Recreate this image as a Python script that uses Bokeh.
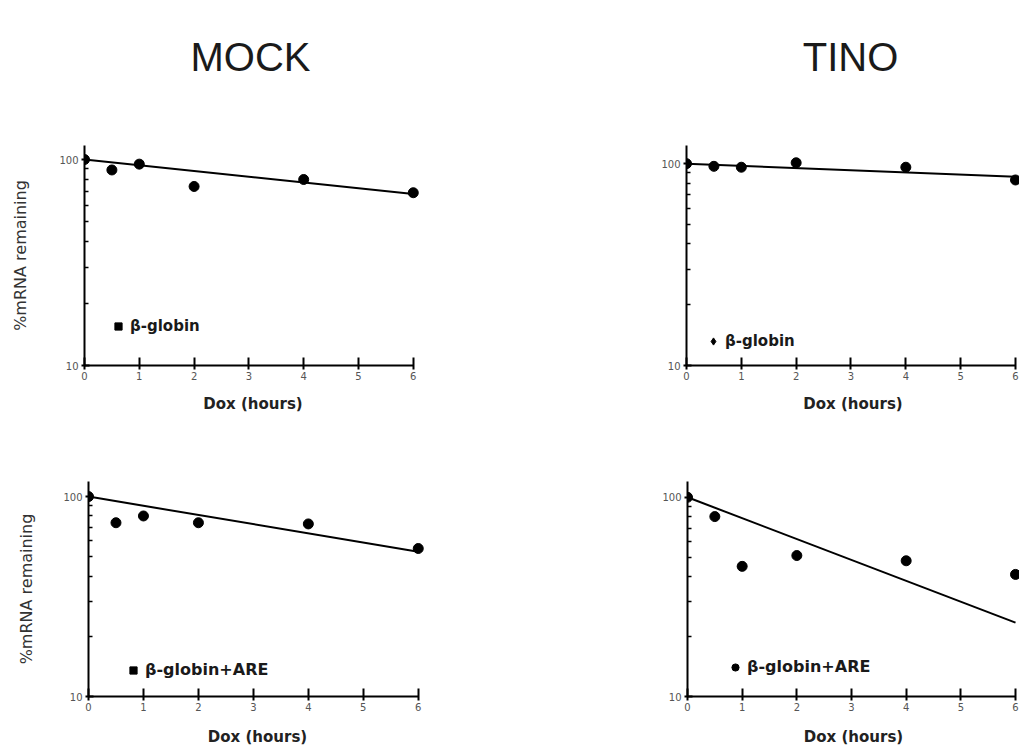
from bokeh.plotting import figure
from bokeh.layouts import column, row
from bokeh.models import (FixedTicker, Legend, LegendItem, Range1d,
                          ColumnDataSource, NumeralTickFormatter)
from bokeh.core.properties import value
from bokeh.embed import file_html
from bokeh.resources import INLINE

# ---- data ----
hours = [0, 0.5, 1, 2, 4, 6]
mock_bglobin = [100, 89, 95, 74, 80, 69]
tino_bglobin = [100, 97, 96, 101, 96, 83]
mock_are = [100, 74, 80, 74, 73, 55]
tino_are = [100, 80, 45, 51, 48, 41]

fit_hours = [0, 6]
mock_bglobin_fit = [100, 68]
tino_bglobin_fit = [100, 86]
mock_are_fit = [100, 53]
tino_are_fit = [100, 23.5]

x_ticks = [0, 1, 2, 3, 4, 5, 6]
y_major = [10, 100]
y_minor = [20, 30, 40, 50, 60, 70, 80, 90]

col_titles = ["MOCK", "TINO"]
series_labels = ["β-globin", "β-globin+ARE"]
x_title = "Dox (hours)"
y_title = "%mRNA remaining"

FONT = "DejaVu Sans"
TFONT = "Liberation Sans"


def title_fig(text, width, height, cx, baseline):
    # pixel-unit ranges so the heading can be placed exactly
    t = figure(width=width, height=height, x_range=Range1d(0, width),
               y_range=Range1d(0, height), output_backend="svg",
               toolbar_location=None, x_axis_location=None,
               y_axis_location=None, min_border=0)
    t.outline_line_color = None
    t.grid.visible = False
    t.text(x=[cx], y=[height - baseline], text=[text],
           text_font=value(TFONT), text_font_size="40px",
           text_color="#1a1a1a", text_align="center",
           text_baseline="alphabetic")
    return t


def panel(y, fit_y, label, label_size, marker, width, height,
          left, right, top, bottom, x_end, y_end, show_ylabel, ylabel_standoff,
          leg_loc, xlabel_standoff):
    p = figure(width=width, height=height,
               x_range=Range1d(0, x_end), y_range=Range1d(10, y_end),
               y_axis_type="log", output_backend="svg", toolbar_location=None,
               min_border_left=left, min_border_right=right,
               min_border_top=top, min_border_bottom=bottom)
    p.outline_line_color = None
    p.grid.visible = False
    p.background_fill_color = "white"
    p.border_fill_color = "white"

    src = ColumnDataSource(dict(x=hours, y=y))
    fit = ColumnDataSource(dict(x=fit_hours, y=fit_y))
    p.line("x", "y", source=fit, line_color="black", line_width=2)
    p.scatter("x", "y", source=src, size=10, marker="circle",
              fill_color="black", line_color="black")

    # legend key glyph (its single point lies outside the visible ranges)
    dummy = p.scatter(x=[-10], y=[1], marker=marker, size=8,
                      fill_color="black", line_color="black")
    leg = Legend(items=[LegendItem(label=label, renderers=[dummy])],
                 location=leg_loc)
    leg.border_line_color = None
    leg.background_fill_alpha = 0
    leg.padding = 0
    leg.margin = 0
    leg.spacing = 0
    leg.glyph_width = 18
    leg.glyph_height = 18
    leg.label_standoff = 3
    leg.label_text_font = FONT
    leg.label_text_font_size = label_size
    leg.label_text_font_style = "bold"
    leg.label_text_color = "#1a1a1a"
    p.add_layout(leg)

    xa = p.xaxis[0]
    xa.ticker = FixedTicker(ticks=x_ticks)
    xa.bounds = (0, 6)
    xa.axis_label = x_title
    xa.axis_label_text_font = FONT
    xa.axis_label_text_font_size = "15px"
    xa.axis_label_text_font_style = "bold"
    xa.axis_label_text_color = "#222222"
    xa.axis_label_standoff = xlabel_standoff
    xa.major_label_text_font = FONT
    xa.major_label_text_font_size = "10px"
    xa.major_label_text_color = "#555555"
    xa.major_label_standoff = 2
    xa.axis_line_width = 2
    xa.major_tick_line_width = 2
    xa.major_tick_in = 8
    xa.major_tick_out = 4
    xa.minor_tick_line_color = None

    ya = p.yaxis[0]
    ya.ticker = FixedTicker(ticks=y_major, minor_ticks=y_minor)
    ya.formatter = NumeralTickFormatter(format="0")
    ya.major_label_text_font = FONT
    ya.major_label_text_font_size = "10px"
    ya.major_label_text_color = "#555555"
    ya.major_label_standoff = 3
    ya.axis_line_width = 2
    ya.major_tick_line_width = 2
    ya.major_tick_in = 5
    ya.major_tick_out = 3
    ya.minor_tick_in = 4
    ya.minor_tick_out = 0
    ya.minor_tick_line_width = 1.5
    if show_ylabel:
        ya.axis_label = y_title
        ya.axis_label_text_font = FONT
        ya.axis_label_text_font_size = "16px"
        ya.axis_label_text_font_style = "normal"
        ya.axis_label_text_color = "#333333"
        ya.axis_label_standoff = ylabel_standoff
    return p


# heading row (0..100); row 1 frames 145..365 ; row 2 frames 481..700
t1 = title_fig(col_titles[0], 450, 100, 250, 56)
t2 = title_fig(col_titles[1], 569, 100, 400, 56)

p1 = panel(mock_bglobin, mock_bglobin_fit, series_labels[0], "15px", "square",
           450, 330, 84, 29, 45, 65, 6.15, 117, True, 26, (25, 30), 12)
p2 = panel(tino_bglobin, tino_bglobin_fit, series_labels[0], "15px", "diamond",
           569, 330, 236, 0, 45, 65, 6.073, 123, False, 0, (18, 15), 12)
p3 = panel(mock_are, mock_are_fit, series_labels[1], "16px", "square",
           450, 318, 88, 24, 51, 48, 6.15, 119, True, 24, (36, 17), 14)
p4 = panel(tino_are, tino_are_fit, series_labels[1], "16px", "circle",
           569, 318, 237, 0, 51, 48, 6.073, 120, False, 0, (39, 20), 14)

layout = column(row(t1, t2, spacing=0), row(p1, p2, spacing=0),
                row(p3, p4, spacing=0), spacing=0)
open("out.html", "w").write(file_html(layout, INLINE))
